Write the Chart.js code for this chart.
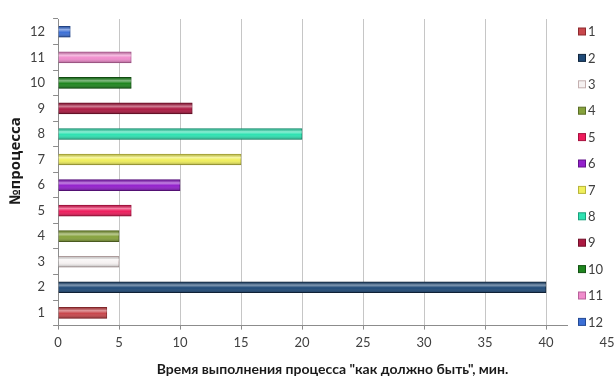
<!DOCTYPE html>
<html>
<head>
<meta charset="utf-8">
<script src="https://cdn.jsdelivr.net/npm/chart.js@4/dist/chart.umd.min.js"></script>
<style>
  html, body { margin: 0; padding: 0; background: #fff; }
  #wrap { width: 615px; height: 378px; }
</style>
</head>
<body>
<div id="wrap"><canvas id="grafica"></canvas></div>
<script>
const procesos = ['1', '2', '3', '4', '5', '6', '7', '8', '9', '10', '11', '12'];
const tiempos = [4, 40, 5, 5, 6, 10, 15, 20, 11, 6, 6, 1];
const colores = ['#c8474c', '#1f4a78', '#f6f2f2', '#86a23c', '#ee1c5c', '#9320cc',
                 '#f0ef5c', '#2fe2b2', '#ac1a42', '#1f861f', '#f08ccc', '#3b6fd6'];
const bordes = ['#8e2a2e', '#10263f', '#c4b0b0', '#5a6e26', '#a8103e', '#62138a',
                '#b8b53a', '#1aa07c', '#72102a', '#125212', '#b8609a', '#244a94'];
const ticksX = [0, 5, 10, 15, 20, 25, 30, 35, 40, 45];

const fuente = 'Lato, "Open Sans", sans-serif';

// brillo tipo cilindro sobre cada barra
const brillo = {
    id: 'brillo',
    afterDatasetsDraw(chart) {
        const ctx = chart.ctx;
        chart.getDatasetMeta(0).data.forEach(bar => {
            const h = bar.height;
            const top = bar.y - h / 2;
            const left = Math.min(bar.x, bar.base);
            const w = Math.abs(bar.x - bar.base);
            const g = ctx.createLinearGradient(0, top, 0, top + h);
            g.addColorStop(0, 'rgba(0,0,0,0.15)');
            g.addColorStop(0.3, 'rgba(255,255,255,0.45)');
            g.addColorStop(0.55, 'rgba(255,255,255,0)');
            g.addColorStop(1, 'rgba(0,0,0,0.3)');
            ctx.save();
            ctx.fillStyle = g;
            ctx.fillRect(left, top, w, h);
            ctx.restore();
        });
    }
};

// leyenda a la derecha, encima del area del grafico
const leyenda = {
    id: 'leyenda',
    afterDraw(chart) {
        const ctx = chart.ctx;
        ctx.save();
        ctx.fillStyle = '#ffffff';
        ctx.fillRect(568, 12, 47, 320);
        ctx.font = '13px ' + fuente;
        ctx.textBaseline = 'middle';
        procesos.forEach((p, i) => {
            const y = 31.5 + i * 26.4;
            ctx.fillStyle = colores[i];
            ctx.strokeStyle = bordes[i];
            ctx.lineWidth = 1;
            ctx.fillRect(578.5, y - 3.5, 7, 7);
            ctx.strokeRect(578.5, y - 3.5, 7, 7);
            ctx.fillStyle = '#404040';
            ctx.fillText(p, 588, y + 0.5);
        });
        ctx.restore();
    }
};

new Chart(document.getElementById('grafica'), {
    type: 'bar',
    data: {
        labels: procesos,
        datasets: [{
            data: tiempos,
            backgroundColor: colores,
            borderColor: bordes,
            borderWidth: 1,
            barThickness: 11
        }]
    },
    options: {
        indexAxis: 'y',
        responsive: true,
        maintainAspectRatio: false,
        animation: false,
        layout: { padding: { left: 6, top: 19, right: 8, bottom: 0 } },
        plugins: {
            legend: { display: false },
            tooltip: { enabled: false }
        },
        scales: {
            x: {
                min: 0,
                max: 45,
                afterBuildTicks: axis => { axis.ticks = ticksX.map(v => ({ value: v })); },
                afterFit: axis => { axis.paddingRight = 0; },
                ticks: { color: '#404040', font: { family: fuente, size: 13 }, padding: 5 },
                grid: { color: '#c6c6c6', tickLength: 4, tickColor: '#8c8c8c' },
                border: { color: '#8c8c8c' },
                title: {
                    display: true,
                    text: 'Время выполнения процесса "как должно быть", мин.',
                    color: '#1a1a1a',
                    font: { family: fuente, size: 14, weight: 'bold' },
                    padding: { top: 6, bottom: 0 }
                }
            },
            y: {
                reverse: true,
                ticks: { color: '#404040', font: { family: fuente, size: 13 }, padding: 8 },
                grid: { offset: true, drawOnChartArea: false, tickLength: 5, color: '#8c8c8c' },
                border: { color: '#8c8c8c' },
                title: {
                    display: true,
                    text: '\u2002\u2002\u2002№процесса',
                    color: '#1a1a1a',
                    font: { family: '"Open Sans", sans-serif', size: 15, weight: 'bold', lineHeight: 0.8 },
                    padding: { top: 4, bottom: 0 }
                }
            }
        }
    },
    plugins: [brillo, leyenda]
});
</script>
</body>
</html>
